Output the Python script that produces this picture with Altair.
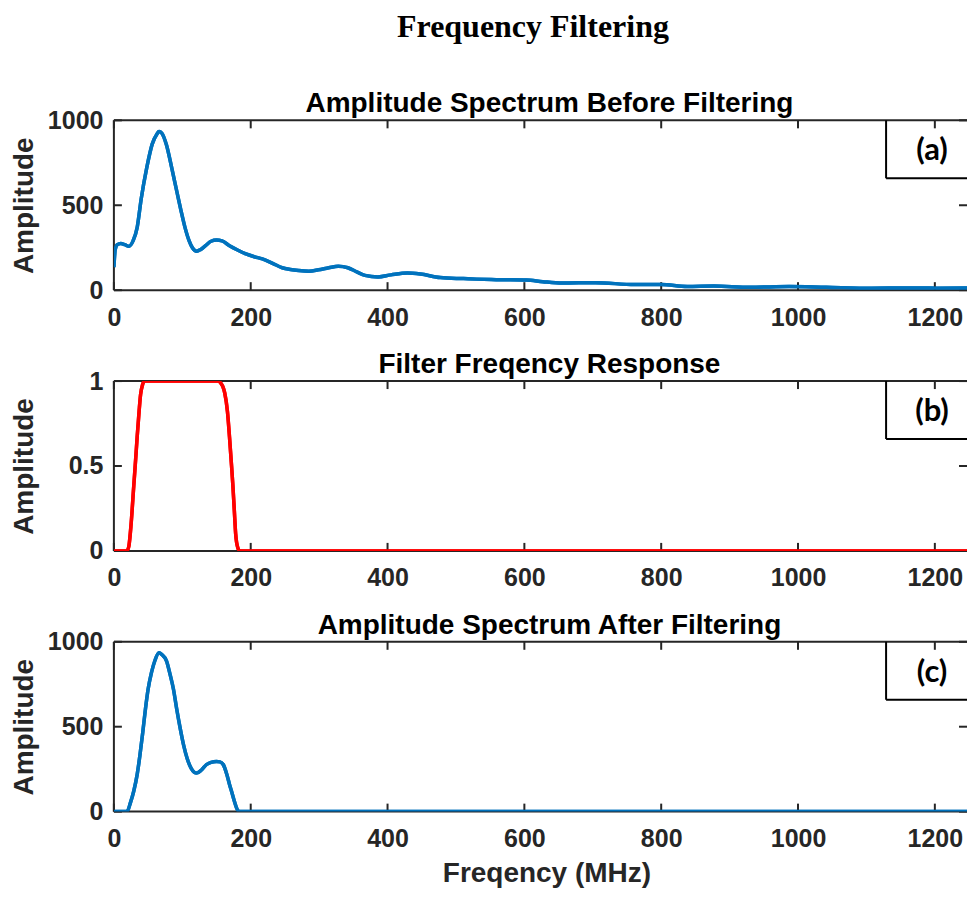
import altair as alt
import pandas as pd

# ---------------- data ----------------
freq_before = [0, 2, 5, 10, 16, 22, 28, 34, 40, 48, 56, 63, 66, 70, 77, 84, 92, 98,
               104, 110, 115, 121, 127, 134, 142, 150, 158, 169, 180, 193, 205, 217,
               232, 246, 258, 270, 285, 299, 314, 328, 342, 355, 367, 386, 405, 429,
               448, 477, 511, 530, 559, 603, 627, 655, 704, 761, 800, 838, 877, 930,
               987, 1041, 1108, 1156, 1204, 1247]
amp_before = [135, 240, 268, 275, 268, 258, 290, 368, 540, 720, 860, 920, 934, 925,
              853, 730, 581, 470, 368, 290, 248, 229, 240, 262, 288, 295, 290, 262,
              238, 213, 197, 184, 158, 132, 122, 116, 112, 120, 132, 141, 132, 108,
              87, 78, 90, 101, 95, 74, 68, 65, 62, 60, 50, 42, 44, 33, 33, 22, 24,
              17, 21, 17, 12, 13, 12, 13]

freq_filter = [0, 18, 20, 22, 25, 29, 32, 34, 37, 39, 42, 45, 48, 152, 156, 159, 162,
               166, 169, 172, 174, 176, 178, 181, 184, 1247]
resp_filter = [0, 0, 0.005, 0.03, 0.15, 0.38, 0.55, 0.67, 0.83, 0.92, 0.98, 1.0, 1.0,
               1.0, 0.99, 0.97, 0.93, 0.82, 0.67, 0.5, 0.38, 0.24, 0.1, 0.02, 0, 0]

freq_after = [0, 17, 20, 24, 29, 34, 38, 42, 46, 50, 55, 60, 66, 70, 77, 82, 87, 92,
              97, 102, 107, 113, 121, 128, 135, 142, 150, 155, 160, 165, 169, 173,
              176, 179, 182, 185, 1247]
amp_after = [0, 0, 5, 50, 120, 218, 330, 460, 600, 720, 820, 890, 935, 925, 886, 810,
             722, 600, 489, 390, 314, 255, 227, 245, 276, 290, 295, 293, 276, 220,
             160, 105, 62, 25, 3, 0, 0]

x_tick_values = [0, 200, 400, 600, 800, 1000, 1200]
amp_tick_values = [0, 500, 1000]
resp_tick_values = [0, 0.5, 1]

panel_titles = ["Amplitude Spectrum Before Filtering",
                "Filter Freqency Response",
                "Amplitude Spectrum After Filtering"]
panel_labels = ["(a)", "(b)", "(c)"]
fig_title = "Frequency Filtering"
y_title = "Amplitude"
x_title = "Freqency (MHz)"

# ---------------- styling ----------------
W, H = 854, 170
X_MAX = 1247
AX = "#262626"
SANS = "Liberation Sans"
TICK = 8


def panel(freqs, vals, color, y_max, y_ticks, y_fmt, title, label, show_xtitle,
          show_fig_title):
    df = pd.DataFrame({"f": freqs, "a": vals})
    one = pd.DataFrame({"k": [0]})
    xt = pd.DataFrame({"t": x_tick_values})
    yt = pd.DataFrame({"t": y_ticks})
    xs = alt.Scale(domain=[0, X_MAX], nice=False, zero=False)
    ys = alt.Scale(domain=[0, y_max], nice=False, zero=False)

    x_axis_kw = dict(values=x_tick_values, format="d", labelPadding=15,
                     titlePadding=8, labelFlush=False, labelOverlap=False)
    if show_xtitle:
        x_axis = alt.Axis(title=x_title, titleX=433, **x_axis_kw)
    else:
        x_axis = alt.Axis(title=None, **x_axis_kw)
    y_axis = alt.Axis(values=y_ticks, format=y_fmt, title=y_title,
                      labelPadding=11, titleX=-89, titleY=H / 2,
                      titleBaseline="middle", labelFlush=False, labelOverlap=False)

    line = alt.Chart(df).mark_line(color=color, strokeWidth=3.5,
                                   interpolate="monotone", clip=True).encode(
        x=alt.X("f:Q", scale=xs, axis=x_axis),
        y=alt.Y("a:Q", scale=ys, axis=y_axis),
    )

    frame_kw = dict(color=AX, strokeWidth=2)
    top = alt.Chart(one).mark_rule(**frame_kw).encode(
        x=alt.value(0), x2=alt.value(W), y=alt.value(0))
    left = alt.Chart(one).mark_rule(**frame_kw).encode(
        x=alt.value(0), y=alt.value(0), y2=alt.value(H))
    bottom = alt.Chart(one).mark_rule(**frame_kw).encode(
        x=alt.value(0), x2=alt.value(W), y=alt.value(H))

    xb = alt.Chart(xt).mark_rule(**frame_kw).encode(
        x=alt.X("t:Q", scale=xs, axis=x_axis), y=alt.value(H), y2=alt.value(H - TICK))
    xtop = alt.Chart(xt).mark_rule(**frame_kw).encode(
        x=alt.X("t:Q", scale=xs, axis=x_axis), y=alt.value(0), y2=alt.value(TICK))
    yl = alt.Chart(yt).mark_rule(**frame_kw).encode(
        y=alt.Y("t:Q", scale=ys, axis=y_axis), x=alt.value(0), x2=alt.value(TICK))
    yr = alt.Chart(yt).mark_rule(**frame_kw).encode(
        y=alt.Y("t:Q", scale=ys, axis=y_axis), x=alt.value(W - TICK), x2=alt.value(W))

    box_l = alt.Chart(one).mark_rule(color="black", strokeWidth=2).encode(
        x=alt.value(773), y=alt.value(0), y2=alt.value(58))
    box_b = alt.Chart(one).mark_rule(color="black", strokeWidth=2).encode(
        x=alt.value(773), x2=alt.value(W), y=alt.value(58))
    txt = alt.Chart(one).mark_text(text=label, font="Lato", fontWeight="bold",
                                   fontSize=31, color="black", align="center",
                                   baseline="middle").encode(
        x=alt.value(819), y=alt.value(31))

    ttl = alt.Chart(one).mark_text(text=title, font=SANS, fontSize=28,
                                   fontWeight="bold", color="black", align="center",
                                   baseline="alphabetic").encode(
        x=alt.value(436), y=alt.value(-8))

    layers = [line, top, left, bottom, xb, xtop, yl, yr, box_l, box_b, txt, ttl]
    if show_fig_title:
        ftl = alt.Chart(one).mark_text(text=fig_title, font="Liberation Serif",
                                       fontSize=32, fontWeight="bold", color="black",
                                       align="center", baseline="alphabetic").encode(
            x=alt.value(419.5), y=alt.value(-83))
        layers.append(ftl)
    layers.append(line)
    return alt.layer(*layers).properties(width=W, height=H)


pa = panel(freq_before, amp_before, "#0072BD", 1000, amp_tick_values, "d",
           panel_titles[0], panel_labels[0], False, True)
pb = panel(freq_filter, resp_filter, "#FF0000", 1, resp_tick_values, "~g",
           panel_titles[1], panel_labels[1], False, False)
pc = panel(freq_after, amp_after, "#0072BD", 1000, amp_tick_values, "d",
           panel_titles[2], panel_labels[2], True, False)

chart = alt.vconcat(pa, pb, pc, spacing=21).properties(
    padding={"left": 2, "top": 3, "right": 0, "bottom": 0},
).configure_view(strokeWidth=0).configure_axis(
    grid=False, domain=False, ticks=False,
    labelFont=SANS, labelFontSize=25, labelFontWeight="bold", labelColor=AX,
    titleFont=SANS, titleFontSize=28, titleFontWeight="bold", titleColor=AX,
)

chart.save("out.html", embed_options={"renderer": "svg", "actions": False})
